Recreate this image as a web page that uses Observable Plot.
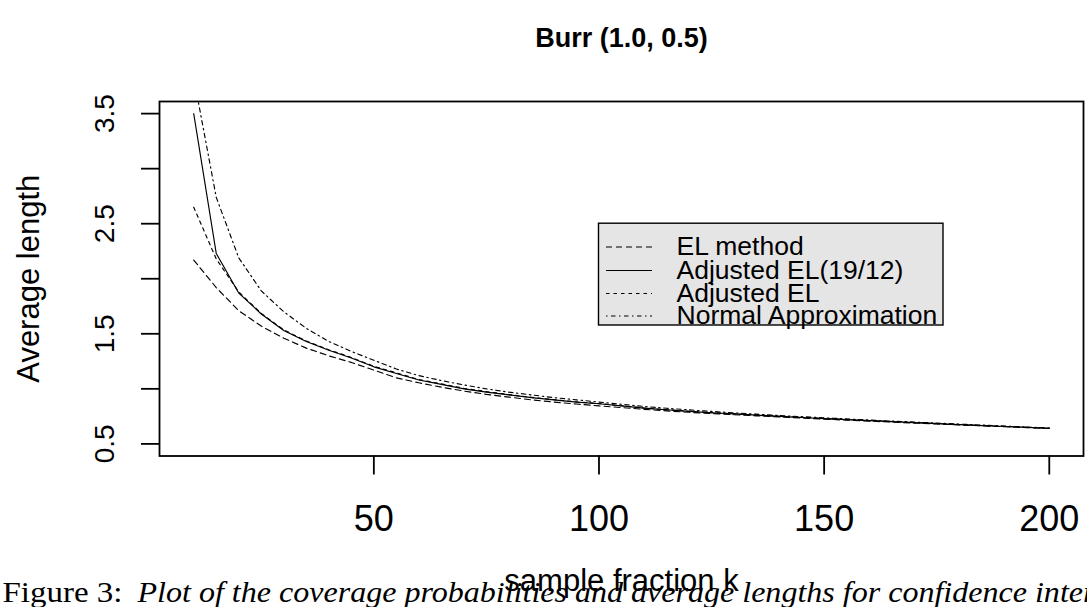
<!DOCTYPE html>
<html><head><meta charset="utf-8">
<script src="https://cdn.jsdelivr.net/npm/d3@7"></script>
<script src="https://cdn.jsdelivr.net/npm/@observablehq/plot@0.6"></script>
<style>body{margin:0;background:#fff} svg{display:block}</style>
</head><body><div id="chart"></div>
<script>
// sample fraction k
const k = [10,15,20,25,30,35,40,45,50,55,60,65,70,75,80,85,90,95,100,105,110,115,120,125,130,135,140,145,150,155,160,165,170,175,180,185,190,195,200];
// Average length, per method
const elMethod = [2.17,1.92,1.71,1.57,1.46,1.37,1.30,1.24,1.17,1.10,1.055,1.015,0.98,0.95,0.925,0.90,0.88,0.862,0.845,0.83,0.814,0.80,0.787,0.776,0.765,0.755,0.745,0.735,0.725,0.716,0.707,0.698,0.689,0.681,0.672,0.664,0.656,0.648,0.64];
const adjEL1912 = [3.50,2.23,1.87,1.68,1.53,1.43,1.35,1.28,1.20,1.14,1.08,1.04,1.00,0.97,0.945,0.92,0.90,0.88,0.865,0.845,0.825,0.81,0.795,0.783,0.772,0.761,0.75,0.74,0.73,0.72,0.711,0.702,0.693,0.684,0.675,0.666,0.658,0.65,0.642];
const adjEL = [2.65,2.18,1.88,1.685,1.535,1.435,1.355,1.285,1.205,1.145,1.085,1.045,1.005,0.975,0.948,0.923,0.902,0.882,0.866,0.846,0.826,0.811,0.796,0.784,0.773,0.762,0.751,0.741,0.731,0.721,0.712,0.703,0.694,0.685,0.676,0.667,0.659,0.651,0.643];
const normalApprox = [3.83,2.74,2.19,1.89,1.70,1.55,1.43,1.34,1.26,1.18,1.12,1.075,1.035,1.00,0.97,0.945,0.92,0.90,0.88,0.86,0.84,0.824,0.809,0.795,0.782,0.77,0.758,0.747,0.737,0.727,0.717,0.707,0.698,0.689,0.68,0.671,0.662,0.653,0.644];

const seriesNames = ["EL method", "Adjusted EL(19/12)", "Adjusted EL", "Normal Approximation"];
const seriesValues = [elMethod, adjEL1912, adjEL, normalApprox];
const xTicks = [50, 100, 150, 200];
const yTicks = [0.5, 1.0, 1.5, 2.0, 2.5, 3.0, 3.5];
const yTickLabels = ["0.5", "", "1.5", "", "2.5", "", "3.5"];
const titleText = "Burr (1.0, 0.5)";
const xLabel = "sample fraction k";
const yLabel = "Average length";
const captionHead = "Figure 3:";
const captionBody = "Plot of the coverage probabilities and average lengths for confidence inter";

// styles
const dashes = ["6,4", null, "3.5,4", "1.5,3.5,4.5,3.5"];
const W = 1087, H = 607, mL = 159, mR = 4, mT = 101, mB = 151.5;
const xDomain = [2.4, 207.6], yDomain = [0.39, 3.61];
const xs = d3.scaleLinear(xDomain, [mL, W - mR]);
const ys = d3.scaleLinear(yDomain, [H - mB, mT]);
const sans = "'Liberation Sans', Arial, Helvetica, sans-serif";
const serif = "'Liberation Serif', 'Times New Roman', serif";

const rows = [];
seriesNames.forEach((s, i) => k.forEach((kk, j) => rows.push({series: s, k: kk, value: seriesValues[i][j]})));

// legend layout (pixel positions converted to data units)
const legBox = {x1: 100, y1: 2.5, x2: xs.invert(943), y2: ys.invert(325)};
const legRowsPx = [246.5, 270, 293, 315.5];
const legend = seriesNames.map((s, i) => ({series: s, i, y: ys.invert(legRowsPx[i])}));
const legLineX1 = xs.invert(606), legLineX2 = xs.invert(652), legTextX = xs.invert(676);

const lineMarks = seriesNames.map((s, i) => Plot.line(rows.filter(d => d.series === s), {
  x: "k", y: "value", stroke: "black", strokeWidth: 1.15,
  strokeDasharray: dashes[i] || undefined, clip: "frame"
}));
const legLineMarks = legend.map(d => Plot.ruleY([d], {
  y: "y", x1: legLineX1, x2: legLineX2, stroke: "black", strokeWidth: 1.15,
  strokeDasharray: dashes[d.i] || undefined
}));

const plot = Plot.plot({
  width: W, height: H,
  marginLeft: mL, marginRight: mR, marginTop: mT, marginBottom: mB,
  style: {fontFamily: sans, background: "white", color: "black"},
  x: {domain: xDomain},
  y: {domain: yDomain},
  marks: [
    ...lineMarks,
    Plot.rect([legBox], {x1: "x1", x2: "x2", y1: "y1", y2: "y2", fill: "#e5e5e5", stroke: "black", strokeWidth: 1.4}),
    ...legLineMarks,
    Plot.text(legend, {x: legTextX, y: "y", text: "series", textAnchor: "start", fontSize: 26.5, fill: "black"}),
    Plot.frame({stroke: "black", strokeWidth: 1.8}),
    Plot.axisX({ticks: xTicks, tickSize: 19, tickPadding: 30, fontSize: 36, label: null, strokeWidth: 1.8, tickFormat: d => String(d)}),
    Plot.axisY({ticks: yTicks, tickSize: 18, tickPadding: 28, tickRotate: -90, fontSize: 28, label: null, strokeWidth: 1.8,
      tickFormat: d => yTickLabels[yTicks.indexOf(d)]}),
    Plot.text([titleText], {frameAnchor: "top", dy: -55, lineAnchor: "bottom", fontSize: 27, fontWeight: "bold", fill: "black"}),
    Plot.text([xLabel], {frameAnchor: "bottom", dy: 135, lineAnchor: "bottom", fontSize: 31, fill: "black"}),
    Plot.text([yLabel], {frameAnchor: "left", dx: 29 - mL, rotate: -90, textAnchor: "middle", lineAnchor: "middle", fontSize: 31, fill: "black"}),
    Plot.text([captionHead], {frameAnchor: "bottom-left", dx: 2 - mL, dy: 146, textAnchor: "start", lineAnchor: "bottom", fontSize: 29, fontFamily: serif, fill: "black"}),
    Plot.text([captionBody], {frameAnchor: "bottom-left", dx: 137 - mL, dy: 146, textAnchor: "start", lineAnchor: "bottom", fontSize: 29, fontFamily: serif, fontStyle: "italic", fill: "black"})
  ]
});
document.getElementById("chart").appendChild(plot);
// Computer Modern is wider than Times: stretch the caption to the reference's width
d3.select(plot).selectAll("text").each(function() {
  const t = this.textContent;
  if (t === captionHead) d3.select(this).attr("textLength", 120).attr("lengthAdjust", "spacingAndGlyphs");
  if (t === captionBody) d3.select(this).attr("textLength", 958).attr("lengthAdjust", "spacingAndGlyphs");
});
</script>
</body></html>
